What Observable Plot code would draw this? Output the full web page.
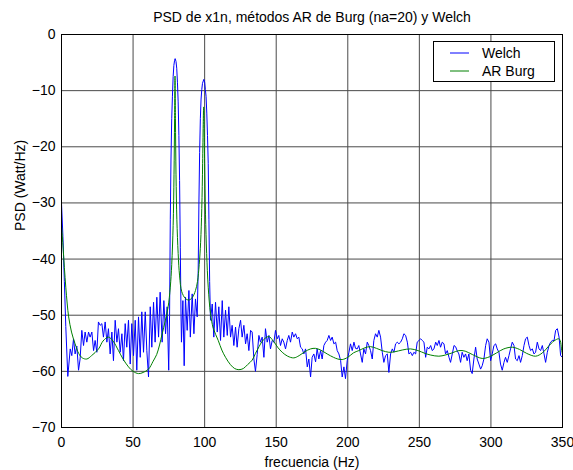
<!DOCTYPE html>
<html><head><meta charset="utf-8">
<script src="https://cdn.jsdelivr.net/npm/d3@7"></script>
<script src="https://cdn.jsdelivr.net/npm/@observablehq/plot@0.6"></script>
<style>
body{margin:0;background:#fff;font-family:"Liberation Sans",Arial,sans-serif}
#wrap{position:relative;width:573px;height:470px}
#legend{position:absolute;left:433px;top:41px}
</style></head><body><div id="wrap"></div>
<script>
const title = "PSD de x1n, métodos AR de Burg (na=20) y Welch";
const xLabel = "frecuencia (Hz)";
const yLabel = "PSD (Watt/Hz)";
const xTicks = [0, 50, 100, 150, 200, 250, 300, 350];
const yTicks = [-70, -60, -50, -40, -30, -20, -10, 0];
const seriesNames = ["Welch", "AR Burg"];

const welchFreq = [0,1,2,3,4.4,6.1,7.2,8.4,9.5,10.7,11.9,13,14.2,15.4,16.5,17.7,18.9,20,21.2,22.4,23.5,24.7,25.8,27,28.2,29.3,30.5,31.7,32.8,34,35.2,36.3,37.5,38.7,39.8,41,42.2,43.3,44.5,45.6,46.8,48,49.1,50.3,51.5,52.6,53.8,55,56.1,57.3,58.5,59.6,60.8,62,63.1,64.3,65.4,66.6,67.8,68.9,70.3,71.5,72.7,73.8,74.9,75.5,76,76.5,77,77.5,78,78.5,79,79.4,80,80.5,81,81.5,82,82.5,83,83.5,83.8,84.8,85.7,86.6,87.8,89,90,91.3,92.5,93.6,94.8,95.5,96,96.5,97,97.5,98,98.5,99.4,100,100.5,101,101.5,102,102.5,103,103.5,104.1,105.3,106.4,107.6,108.8,109.9,111.1,112.3,113.4,114.6,115.8,116.9,118.1,119.2,120.4,121.6,122.7,123.9,125.1,126.2,127.4,128.6,129.7,130.9,132.1,133.2,134.4,135.5,136.7,137.9,139,140.2,141.4,142.5,143.7,144.9,146,147.2,148.4,149.5,150.7,151.8,153,154.2,155.3,156.5,157.7,158.8,160,161.2,162.3,163.5,164.7,165.8,167,168.2,169.3,170.5,171.7,172.8,174,175.1,176.3,177.5,178.6,179.8,181,182.1,183.3,184.5,185.6,186.8,188,189.1,190.3,191.5,192.6,193.8,195,196.1,197.3,198.4,199.6,200.8,201.9,203.1,204.3,205.4,206.6,207.7,208.9,210.1,211.2,212.4,213.6,214.7,215.9,217.1,218.2,219.4,220.6,221.7,222.9,224.1,225.2,226.4,227.6,228.7,229.9,231.1,232.2,233.4,234.6,235.7,236.9,238.1,239.2,240.4,241.6,242.7,243.9,245.1,246.2,247.4,248.5,249.7,250.9,252,253.2,254.4,255.5,256.7,257.9,259,260.2,261.4,262.5,263.7,264.8,266,267.2,268.3,269.5,270.7,271.8,273,274.2,275.3,276.4,277.6,278.8,279.9,281.1,282.3,283.4,284.6,285.8,286.9,288.1,289.3,290.4,291.6,292.8,293.9,295.1,296.3,297.4,298.6,299.8,300.9,302.1,303.3,304.4,305.6,306.7,307.9,309.1,310.2,311.4,312.6,313.7,314.9,316.1,317.2,318.4,319.6,320.7,321.9,323.1,324.2,325.4,326.6,327.7,328.9,330.1,331.2,332.4,333.6,334.7,335.9,337.1,338.2,339.4,340.6,341.7,342.9,344.1,345.2,346.4,347.6,348.7,350];
const welchPsd = [-30,-36,-44,-52,-60.9,-56,-57.2,-54.2,-56.9,-55.5,-59.8,-57.8,-52.7,-55.4,-53,-54.8,-53,-53.9,-53,-56.3,-54.5,-56.6,-51.2,-51.8,-51.5,-53.9,-51.2,-54.8,-52.4,-56.9,-53,-58.1,-50.9,-54.8,-52.4,-56.6,-53.3,-58.1,-51.5,-55.7,-50.9,-58.7,-51.5,-57.2,-50.9,-59.8,-50.3,-57.5,-49.4,-56.6,-49.4,-56.3,-61,-48.5,-55.7,-47.7,-54.8,-46.8,-53.9,-45.9,-54.8,-47.4,-53.3,-48.5,-59.8,-50,-33,-22,-15,-11,-7.5,-5.5,-4.6,-4.3,-4.8,-6,-8.5,-12,-18,-26,-38,-50,-54.8,-47.4,-59,-46.8,-52.7,-45.6,-53.9,-46.2,-53.3,-47.1,-50.3,-42,-30,-21,-15,-11.5,-9.8,-8.7,-8,-8.5,-9.8,-11,-14,-18,-23,-33,-44,-50.9,-48,-53.9,-47.7,-53,-48.5,-54.5,-47.4,-53.9,-49.1,-53.6,-48.5,-53.9,-51.8,-55.4,-52.1,-55.7,-52.4,-50.9,-53.9,-51.8,-55.1,-53.3,-56.3,-52.7,-53,-57.8,-60,-57,-53.6,-54.8,-53.9,-57.5,-52.4,-54.8,-53.6,-56,-54.5,-54.8,-52.7,-54.2,-53.6,-55.4,-54.2,-54.8,-56,-54.5,-53.6,-54.8,-53,-53.9,-53.3,-54.2,-53.9,-55.7,-56,-56.9,-56,-59.2,-57.8,-61,-57.5,-56.9,-58.3,-56,-57.8,-56.3,-57.8,-55.4,-54.8,-54.5,-53.6,-54.5,-53.9,-55.1,-54.8,-56.3,-56.9,-58.1,-61,-59.2,-61.3,-58.1,-56.6,-55.1,-56.3,-54.8,-55.9,-56,-55.4,-56.9,-58.4,-56,-56.9,-54.8,-55.4,-56.3,-57.8,-54.5,-53.3,-53.9,-52.7,-53.9,-56.6,-58.4,-57.2,-56.9,-60.2,-56.9,-56,-56.6,-55.1,-54.8,-55.1,-54.8,-54.2,-53.3,-53.6,-54.8,-56.9,-56.6,-57.2,-56.6,-56.9,-54.8,-54.5,-54.2,-54.5,-54.8,-57.5,-55.7,-56,-55.4,-56.3,-56,-54.8,-55.4,-54.5,-55.7,-54.8,-55.1,-56.9,-56.3,-57.5,-58.4,-56.9,-55.4,-55.6,-56.3,-56.9,-58.4,-56.6,-57.5,-56.9,-58.1,-56.9,-59.8,-60.4,-57.8,-55.7,-57.8,-58.7,-59.6,-59,-57.8,-55.4,-54.2,-54.8,-58.1,-56.9,-55.4,-55.1,-56,-56.6,-58.7,-59.8,-58.4,-57.5,-58.4,-57.2,-56,-54.8,-55.4,-57.8,-58.1,-57.2,-58.4,-57.2,-55.4,-54.2,-53.9,-55.4,-56.3,-56,-56.9,-56.6,-54.8,-56,-56.3,-55.4,-56.9,-58.4,-56.6,-55.4,-54.8,-54.5,-54.5,-52.7,-52.4,-53.9,-57.2,-57.5];

const burgFreq = [0,1,2,3,4,5,7,9.5,12,14.5,17.7,21,25.9,29,32.8,36,39.8,43,46.8,50,53.8,57,60.8,64,66.5,68.5,70.3,72.5,74.5,76,77,78,78.6,79,79.3,79.6,80,80.6,81.5,82.5,84,86.5,89,91.5,93.6,95,96.2,97.2,98,98.6,99,99.3,99.6,100,100.6,101.4,102.5,104.1,106,109.5,112,114.6,118,121,123.9,127,130,133.2,135.5,138,141,144.8,148,151,154.2,158,162.3,166,170,174,177.4,181,185.6,190,193,196.1,200,204,207.7,212,215.9,220,224,228.7,233,238,243.8,249,254,258,263.6,268,273,277.6,282,287,293.9,299,304,309,314.9,320,325,331.2,336,340,344,347.4,348.5,349.3,350];
const burgPsd = [-34,-37.5,-41.5,-45,-48,-50.3,-53,-55.1,-56.8,-57.6,-57.8,-57.2,-56,-54.6,-53.9,-54.6,-56.3,-57.8,-59.2,-60,-60.4,-60.2,-59.6,-58.2,-57,-55.3,-53.3,-51,-48.5,-45,-41,-34,-25,-15,-7.4,-15,-25,-33,-39,-43,-45.8,-47,-47.3,-46.8,-45.6,-44,-41,-37,-31,-23,-16,-12.9,-16,-23,-32,-39,-45,-49.7,-52.3,-54.5,-56.2,-57.5,-58.8,-59.5,-59.7,-59.5,-58.8,-58,-56.8,-55.6,-54.4,-53.8,-54.6,-55.7,-56.6,-57.3,-57.6,-57.2,-56.5,-56,-55.9,-56.2,-56.9,-57.5,-57.8,-57.9,-57.5,-56.7,-56.3,-55.8,-55.6,-55.9,-56.3,-56.6,-56.5,-56.2,-56,-56.3,-56.8,-57.1,-57.3,-57.1,-56.7,-56.3,-56.4,-57,-57.7,-57.4,-56.7,-56,-55.7,-56.1,-56.8,-57.3,-56.7,-55.6,-54.6,-54.2,-54.6,-56,-57];

const welch = welchFreq.map((f, i) => ({f, p: welchPsd[i]}));
const burg = burgFreq.map((f, i) => ({f, p: burgPsd[i]}));
const colors = ["#0000ff", "#008000"];
const font = '"Liberation Sans", Arial, sans-serif';

const chart = Plot.plot({
  width: 573, height: 470,
  marginLeft: 61, marginRight: 11, marginTop: 34, marginBottom: 43,
  style: {fontFamily: font, fontSize: "14px", background: "white", color: "black"},
  x: {domain: [0, 350]},
  y: {domain: [-70, 0]},
  marks: [
    Plot.gridX(xTicks, {stroke: "#4a4a4a", strokeOpacity: 1}),
    Plot.gridY(yTicks, {stroke: "#4a4a4a", strokeOpacity: 1}),
    Plot.line(welch, {x: "f", y: "p", stroke: colors[0], strokeWidth: 1}),
    Plot.line(burg, {x: "f", y: "p", stroke: colors[1], strokeWidth: 1, curve: "catmull-rom"}),
    Plot.frame({stroke: "black"}),
    Plot.axisX(xTicks, {tickSize: 0, tickPadding: 10, label: null, fontSize: 14}),
    Plot.axisY(yTicks, {tickSize: 0, tickPadding: 6, label: null, fontSize: 14}),
    Plot.text([title], {text: d => d, frameAnchor: "top", lineAnchor: "middle", dy: -17, fontSize: 14}),
    Plot.text([xLabel], {text: d => d, frameAnchor: "bottom", lineAnchor: "middle", dy: 35, fontSize: 14}),
    Plot.text([yLabel], {text: d => d, frameAnchor: "left", lineAnchor: "middle", dx: -41, rotate: -90, fontSize: 14})
  ]
});
const wrap = document.getElementById("wrap");
wrap.appendChild(chart);

// legend
const lg = d3.select(wrap).append("svg").attr("id", "legend")
  .attr("width", 123).attr("height", 42);
lg.append("rect").attr("x", 0.5).attr("y", 0.5).attr("width", 121).attr("height", 40)
  .attr("fill", "white").attr("stroke", "black");
seriesNames.forEach((name, i) => {
  const y = 12 + i * 18;
  lg.append("line").attr("x1", 17).attr("x2", 36).attr("y1", y).attr("y2", y)
    .attr("stroke", colors[i]).attr("stroke-width", 1);
  lg.append("text").attr("x", 49).attr("y", y).attr("dy", "0.35em")
    .attr("font-family", font).attr("font-size", 14).text(name);
});
</script></body></html>
